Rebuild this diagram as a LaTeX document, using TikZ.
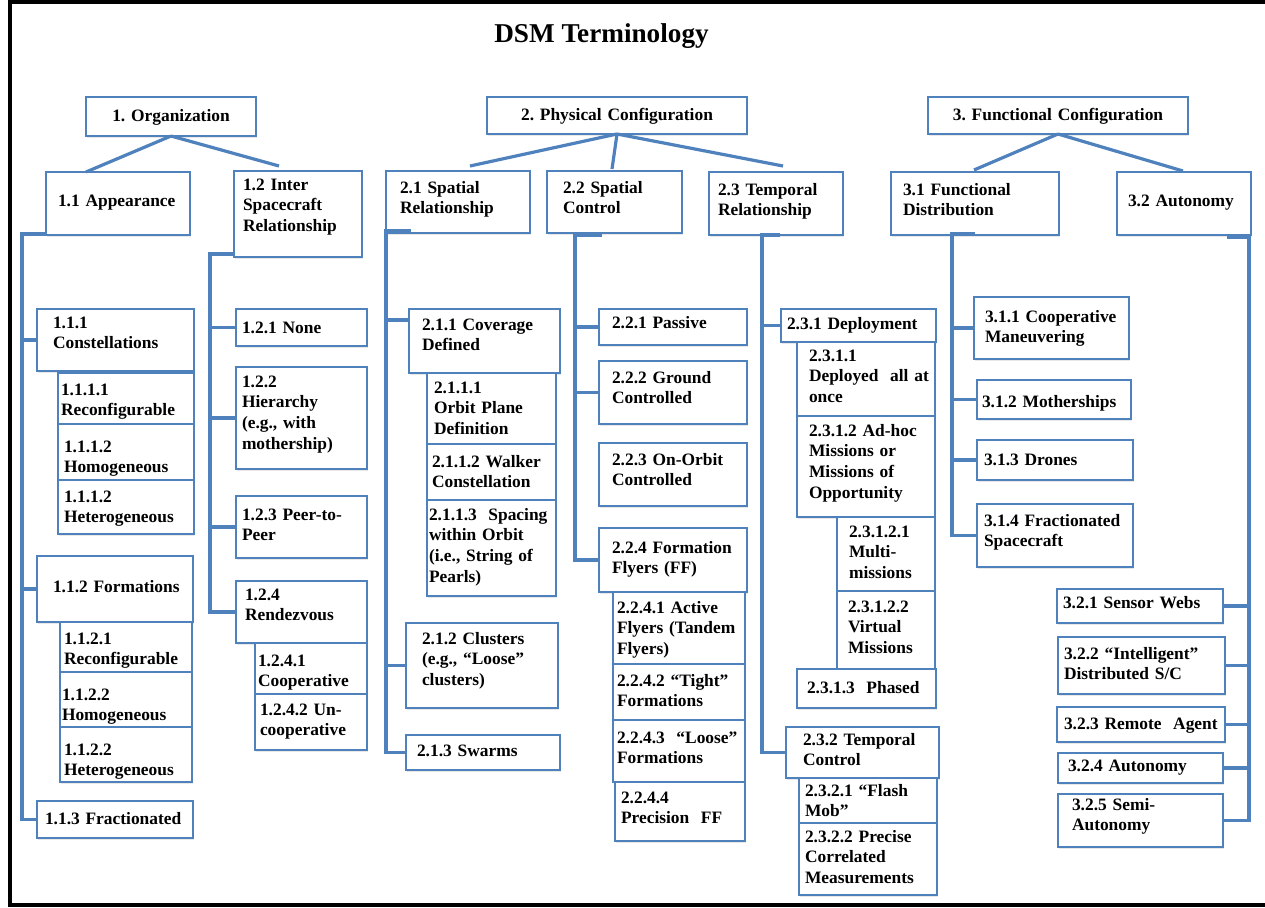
\documentclass[tikz,border=0pt]{standalone}
\usepackage{fontspec}
\setmainfont{Liberation Serif}
\usetikzlibrary{calc,shadows}
\definecolor{dsmblue}{RGB}{79,129,189}
\hyphenpenalty=10000
\exhyphenpenalty=10000
\frenchspacing
\newcommand\dsmbox[8][6]{%
  \pgfmathsetmacro\dsmw{#5-#3}%
  \pgfmathsetmacro\dsmd{#6-#4-#7}%
  \node[bxs, text width=\dsmw pt, text height=#7pt, text depth=\dsmd pt] (#2) at (#3,#4) {\raggedright\leftskip=#1pt\relax #8\par};%
}
\begin{document}
\begin{tikzpicture}[x=1pt,y=-1pt,
  bxs/.style={draw=dsmblue, line width=1.8pt, fill=white, anchor=north west,
    inner sep=0pt, outer sep=0pt,
    font=\fontsize{17.4}{20.8}\selectfont\bfseries\frenchspacing,
    drop shadow={opacity=0.18, shadow xshift=1.2pt, shadow yshift=-1.8pt}},
  cn/.style={draw=dsmblue, line width=3.2pt}]
\useasboundingbox (0,0) rectangle (1265,907);
\draw[line width=4pt] (1265,2.5) -- (9.5,2.5) -- (9.5,905) -- (1265,905);
\node[font=\fontsize{27.2}{32}\selectfont\bfseries, anchor=base] (title) at (601.5,42) {DSM Terminology};
% level 1
\dsmbox[0]{org}{86}{97}{256}{136}{24}{\centering 1. Organization}
\dsmbox[0]{pc}{487}{97}{747}{134}{23}{\centering 2. Physical Configuration}
\dsmbox[0]{fc}{928}{97}{1188}{134}{23}{\centering 3. Functional Configuration}
% level 2
\dsmbox[12]{app}{46}{172}{190}{235}{34}{1.1 Appearance}
\dsmbox[9]{isr}{234}{171}{362}{257}{19}{1.2 Inter\\Spacecraft\\Relationship}
\dsmbox[14]{sr}{386}{171}{530}{233}{22}{2.1 Spatial\\Relationship}
\dsmbox[16]{sc}{547}{171}{682}{233}{22}{2.2 Spatial\\Control}
\dsmbox[9]{tr}{709}{172}{843}{235}{23}{2.3 Temporal\\Relationship}
\dsmbox[12]{fd}{891}{172}{1059}{235}{23}{3.1 Functional\\Distribution}
\dsmbox[11]{aut}{1117}{172}{1251}{235}{34}{3.2 Autonomy}
% column 1.1
\dsmbox[16]{con}{37}{309}{194}{371}{19}{1.1.1\\Constellations}
\dsmbox[3]{conr}{58}{373}{194}{424}{22}{1.1.1.1\\Reconfigurable}
\dsmbox[6]{conho}{58}{424}{194}{480}{28}{1.1.1.2\\Homogeneous}
\dsmbox[6]{conhe}{58}{480}{194}{534}{22}{1.1.1.2\\Heterogeneous}
\dsmbox[16]{frm}{37}{556}{193}{622}{36}{1.1.2 Formations}
\dsmbox[4]{frmr}{60}{622}{192}{672}{22}{1.1.2.1\\Reconfigurable}
\dsmbox[2]{frmho}{60}{672}{192}{727}{28}{1.1.2.2\\Homogeneous}
\dsmbox[4]{frmhe}{60}{727}{192}{782}{28}{1.1.2.2\\Heterogeneous}
\dsmbox[8]{fra}{37}{801}{193}{838}{23}{1.1.3 Fractionated}
% column 1.2
\dsmbox[6]{none}{236}{309}{367}{346}{24}{1.2.1 None}
\dsmbox[6]{hier}{236}{367}{367}{469}{20}{1.2.2\\Hierarchy\\(e.g., with\\mothership)}
\dsmbox[6]{peer}{236}{496}{367}{558}{24}{1.2.3 Peer-to-\\Peer}
\dsmbox[9]{rdv}{236}{581}{367}{643}{19}{1.2.4\\Rendezvous}
\dsmbox[3]{coop}{255}{643}{367}{694}{23}{1.2.4.1\\Cooperative}
\dsmbox[5]{uncoop}{255}{694}{367}{750}{21}{1.2.4.2 Un-\\cooperative}
% column 2.1
\dsmbox[13]{cov}{409}{309}{560}{373}{21}{2.1.1 Coverage\\Defined}
\dsmbox[7]{opd}{427}{373}{556}{444}{20}{2.1.1.1\\Orbit Plane\\Definition}
\dsmbox[5]{wlk}{427}{444}{556}{500}{23}{2.1.1.2 Walker\\Constellation}
\dsmbox[2]{sow}{427}{500}{556}{596}{20}{2.1.1.3\ \ Spacing\\within Orbit\\(i.e., String of\\Pearls)}
\dsmbox[16]{clu}{406}{623}{558}{708}{21}{2.1.2 Clusters\\(e.g., “Loose”\\clusters)}
\dsmbox[11]{swm}{406}{735}{560}{770}{21}{2.1.3 Swarms}
% column 2.2
\dsmbox[13]{pas}{599}{309}{747}{345}{19}{2.2.1 Passive}
\dsmbox[13]{gc}{599}{361}{747}{424}{22}{2.2.2 Ground\\Controlled}
\dsmbox[13]{ooc}{599}{443}{747}{506}{22}{2.2.3 On-Orbit\\Controlled}
\dsmbox[13]{ff}{599}{528}{747}{592}{25}{2.2.4 Formation\\Flyers (FF)}
\dsmbox[4]{act}{613}{592}{745}{664}{21}{2.2.4.1 Active\\Flyers (Tandem\\Flyers)}
\dsmbox[4]{tight}{613}{664}{745}{720}{22}{2.2.4.2 “Tight”\\Formations}
\dsmbox[4]{loose}{613}{720}{745}{782}{23}{2.2.4.3\ \ “Loose”\\Formations}
\dsmbox[6]{prec}{615}{782}{745}{841}{21}{2.2.4.4\\Precision\ \ FF}
% column 2.3
\dsmbox[6]{dep}{781}{309}{936}{342}{20}{2.3.1 Deployment}
\dsmbox[12]{dall}{797}{342}{935}{416}{19}{2.3.1.1\\Deployed\ \ all at\\once}
\dsmbox[12]{adhoc}{797}{416}{935}{517}{20}{2.3.1.2 Ad-hoc\\Missions or\\Missions of\\Opportunity}
\dsmbox[12]{mm}{837}{517}{935}{591}{20}{2.3.1.2.1\\Multi-\\missions}
\dsmbox[11]{vm}{837}{591}{935}{669}{21}{2.3.1.2.2\\Virtual\\Missions}
\dsmbox[10]{ph}{797}{669}{936}{708}{24}{2.3.1.3\ \ Phased}
\dsmbox[17]{tc}{786}{727}{939}{778}{18}{2.3.2 Temporal\\Control}
\dsmbox[6]{fm}{799}{778}{937}{823}{18}{2.3.2.1 “Flash\\Mob”}
\dsmbox[6]{pcm}{799}{823}{937}{895}{19}{2.3.2.2 Precise\\Correlated\\Measurements}
% column 3.1
\dsmbox[11]{cm}{974}{297}{1129}{359}{25}{3.1.1 Cooperative\\Maneuvering}
\dsmbox[5]{ms}{977}{380}{1131}{419}{27}{3.1.2 Motherships}
\dsmbox[7]{dr}{977}{440}{1133}{480}{25}{3.1.3 Drones}
\dsmbox[7]{fs}{977}{504}{1133}{567}{22}{3.1.4 Fractionated\\Spacecraft}
% column 3.2
\dsmbox[6]{sw}{1057}{589}{1223}{623}{19}{3.2.1 Sensor Webs}
\dsmbox[6]{ids}{1058}{637}{1225}{694}{22}{3.2.2 “Intelligent”\\Distributed S/C}
\dsmbox[7]{ra}{1057}{707}{1225}{742}{22}{3.2.3 Remote\ \ Agent}
\dsmbox[10]{au}{1058}{753}{1223}{783}{18}{3.2.4 Autonomy}
\dsmbox[14]{semi}{1058}{794}{1223}{847}{16}{3.2.5 Semi-\\Autonomy}
% top-level connectors
\draw[cn] (org.south) -- ($(app.north west)+(40,0)$);
\draw[cn] (org.south) -- ($(isr.north west)+(45,-5)$);
\draw[cn] (pc.south) -- ($(sr.north west)+(84,-5)$);
\draw[cn] (pc.south) -- ($(sc.north west)+(65,-2)$);
\draw[cn] (pc.south) -- ($(tr.north west)+(74,-6)$);
\draw[cn] (fc.south) -- ($(fd.north west)+(83,-2)$);
\draw[cn] (fc.south) -- ($(aut.north west)+(66,-1)$);
% 1.1
\coordinate (b11) at (22,234);
\draw[cn] (b11 -| app.west) -- (b11) |- (fra.west);
\draw[cn] (b11 |- con.west) -- (con.west);
\draw[cn] (b11 |- frm.west) -- (frm.west);
% 1.2
\coordinate (b12) at (210,254);
\draw[cn] (b12 -| isr.west) -- (b12) |- (rdv.west);
\draw[cn] (b12 |- none.west) -- (none.west);
\draw[cn] (b12 |- hier.west) -- (hier.west);
\draw[cn] (b12 |- peer.west) -- (peer.west);
% 2.1
\coordinate (b21) at (386,231);
\draw[cn] ($(b21)+(25,0)$) -- (b21) |- (swm.west);
\draw[cn] ($(b21 |- cov.north west)+(0,11)$) -- ($(cov.north west)+(0,11)$);
\draw[cn] (b21 |- clu.west) -- (clu.west);
% 2.2
\coordinate (b22) at (575,235);
\draw[cn] ($(b22)+(27,0)$) -- (b22) |- (ff.west);
\draw[cn] (b22 |- pas.west) -- (pas.west);
\draw[cn] (b22 |- gc.west) -- (gc.west);
% 2.3
\coordinate (b23) at (762,235);
\draw[cn] ($(b23)+(18,0)$) -- (b23) |- (tc.west);
\draw[cn] (b23 |- dep.west) -- (dep.west);
% 3.1
\coordinate (b31) at (952,234);
\draw[cn] ($(b31)+(23,0)$) -- (b31) |- (fs.west);
\draw[cn] (b31 |- cm.west) -- (cm.west);
\draw[cn] (b31 |- ms.west) -- (ms.west);
\draw[cn] (b31 |- dr.west) -- (dr.west);
% 3.2
\coordinate (b32) at (1249,237);
\draw[cn] ($(b32)+(-22,0)$) -- (b32) |- (semi.east);
\draw[cn] (b32 |- sw.east) -- (sw.east);
\draw[cn] (b32 |- ids.east) -- (ids.east);
\draw[cn] (b32 |- ra.east) -- (ra.east);
\draw[cn] (b32 |- au.east) -- (au.east);
\end{tikzpicture}
\end{document}
